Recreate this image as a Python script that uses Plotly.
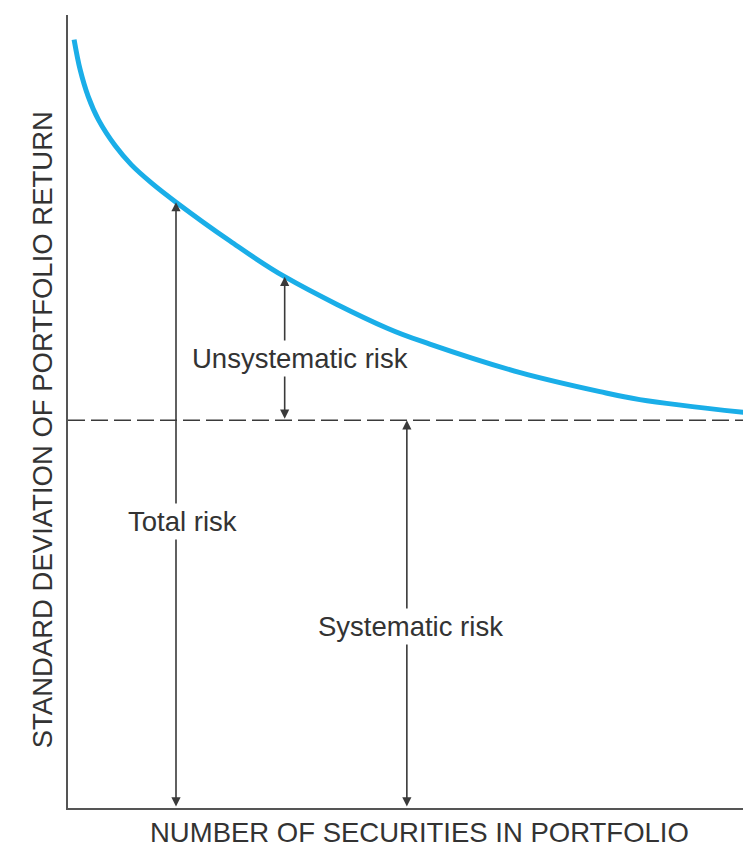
import plotly.graph_objects as go

# Curve: diversification effect (abstract units, 0-100 scale)
securities = [0.9, 1.8, 3.0, 4.5, 7.0, 9.4, 12.4, 16.0, 24.0, 32.1, 47.3, 53.6, 67.0, 78.8, 84.7, 101.0]
std_dev = [96.9, 93.1, 89.7, 86.8, 83.5, 81.1, 78.8, 76.4, 71.5, 67.0, 60.5, 58.5, 54.9, 52.5, 51.5, 49.8]
systematic_level = 48.9

total_idx = 7      # position of the "Total risk" arrow on the curve
unsys_idx = 9      # position of the "Unsystematic risk" arrow on the curve
systematic_x = 50.2

labels = {
    "Unsystematic risk": (34.4, 56.7),
    "Total risk": (17.0, 36.1),
    "Systematic risk": (50.8, 22.95),
}

FONT = "Liberation Sans, Arial, sans-serif"
TXT = "#333333"
LINE = "#3a3a3a"
FS = 27.5

fig = go.Figure()
fig.add_trace(go.Scatter(
    x=securities, y=std_dev, mode="lines",
    line=dict(color="#1aaee8", width=5, shape="spline", smoothing=1.0),
    hoverinfo="skip", showlegend=False,
))
fig.add_trace(go.Scatter(
    x=[0, 100], y=[systematic_level, systematic_level], mode="lines",
    line=dict(color=LINE, width=1.6, dash="17px,6px"),
    hoverinfo="skip", showlegend=False,
))

def arrow(x, y0, y1):
    fig.add_annotation(
        x=x, y=y1, ax=x, ay=y0, xref="x", yref="y", axref="x", ayref="y",
        text="", showarrow=True, arrowside="end+start", arrowhead=2,
        startarrowhead=2, arrowsize=1.15, startarrowsize=1.15, arrowwidth=1.6,
        arrowcolor=LINE, standoff=0, startstandoff=0,
    )

arrow(securities[total_idx], 0, std_dev[total_idx])
arrow(securities[unsys_idx], systematic_level, std_dev[unsys_idx])
arrow(systematic_x, 0, systematic_level)

for txt, (lx, ly) in labels.items():
    fig.add_annotation(
        x=lx, y=ly, xref="x", yref="y", text=txt, showarrow=False,
        font=dict(family=FONT, size=FS, color=TXT), bgcolor="white",
        borderpad=2,
    )

fig.add_annotation(
    x=0.52, y=-0.053, xref="paper", yref="paper",
    text="NUMBER OF SECURITIES IN PORTFOLIO", showarrow=False,
    font=dict(family=FONT, size=FS, color=TXT),
)
fig.add_annotation(
    x=-0.0637, y=0.477, xref="paper", yref="paper", textangle=-90,
    text="STANDARD DEVIATION OF PORTFOLIO RETURN", showarrow=False,
    font=dict(family=FONT, size=FS, color=TXT),
)

fig.update_xaxes(range=[0, 100], showgrid=False, zeroline=False,
                 showticklabels=False, ticks="", showline=True,
                 linecolor="#555555", linewidth=2)
fig.update_yaxes(range=[0, 100], showgrid=False, zeroline=False,
                 showticklabels=False, ticks="", showline=True,
                 linecolor="#555555", linewidth=2)

fig.update_layout(
    width=735, height=851,
    margin=dict(l=60, r=0, t=7, b=51),
    plot_bgcolor="white", paper_bgcolor="white",
    showlegend=False,
)

fig.write_html("out.html")
